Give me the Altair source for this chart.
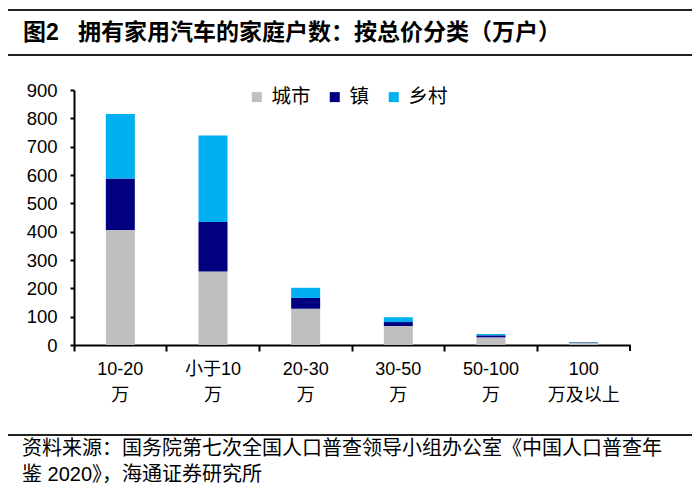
import altair as alt
import pandas as pd

# ---- data ----
categories = ["10-20万", "小于10万", "20-30万", "30-50万", "50-100万", "100万及以上"]
label_line1 = ["10-20", "小于10", "20-30", "30-50", "50-100", "100"]
label_line2 = ["万", "万", "万", "万", "万", "万及以上"]
series = ["城市", "镇", "乡村"]
urban = [406, 259, 128, 67, 27, 7]
town = [182, 175, 38, 14, 7, 2]
rural = [227, 305, 36, 17, 5, 1]
colors = ["#BFBFBF", "#000080", "#00B0F0"]
y_ticks = [0, 100, 200, 300, 400, 500, 600, 700, 800, 900]

title_text = "图2\u00a0\u00a0\u00a0拥有家用汽车的家庭户数：按总价分类（万户）"
footer_text = "资料来源：国务院第七次全国人口普查领导小组办公室《中国人口普查年\n鉴 2020》，海通证券研究所"

rows = []
for i, c in enumerate(categories):
    for j, (s, vals) in enumerate(zip(series, [urban, town, rural])):
        rows.append({"cat": c, "series": s, "value": vals[i], "idx": j})
df = pd.DataFrame(rows)
ldf = pd.DataFrame({"cat": categories, "l1": label_line1, "l2": label_line2})

FONT = "Liberation Sans, Noto Sans CJK SC"
W, H = 556, 255

xenc = alt.X("cat:N", sort=categories, title=None,
             scale=alt.Scale(paddingInner=0, paddingOuter=0),
             axis=alt.Axis(labels=False, bandPosition=0, tickSize=6, tickWidth=2,
                           domainWidth=2, domainColor="black", tickColor="black"))

bars = alt.Chart(df).mark_bar(size=29).encode(
    x=xenc,
    y=alt.Y("value:Q", title=None, stack="zero",
            scale=alt.Scale(domain=[0, 900], nice=False),
            axis=alt.Axis(values=y_ticks, grid=False, tickSize=4, tickWidth=2,
                          domainWidth=2, domainColor="black", tickColor="black",
                          labelFontSize=18.5, labelFont=FONT, labelColor="black",
                          labelPadding=13)),
    color=alt.Color("series:N",
                    scale=alt.Scale(domain=series, range=colors),
                    legend=alt.Legend(orient="none", legendX=173, legendY=-3,
                                      direction="horizontal", title=None,
                                      symbolType="square", symbolSize=100,
                                      labelFontSize=19.5,
                                      labelFont=FONT, labelColor="black",
                                      labelOffset=5, columnPadding=14)),
    order=alt.Order("idx:Q", sort="ascending"),
)

lab1 = alt.Chart(ldf).mark_text(fontSize=18, font=FONT, color="black", baseline="middle").encode(
    x=alt.X("cat:N", sort=categories), y=alt.value(H + 25), text="l1:N")
lab2 = alt.Chart(ldf).mark_text(fontSize=18, font=FONT, color="black", baseline="middle").encode(
    x=alt.X("cat:N", sort=categories), y=alt.value(H + 51), text="l2:N")

end_tick = alt.Chart(pd.DataFrame({"a": [0]})).mark_rule(color="black", strokeWidth=2).encode(
    x=alt.value(W), y=alt.value(H), y2=alt.value(H + 6))

one = pd.DataFrame({"t": [title_text]})
title = alt.Chart(one).mark_text(align="left", baseline="middle", fontSize=23,
                                 fontWeight="bold", font=FONT, color="black").encode(
    x=alt.value(-51), y=alt.value(-57), text="t:N")

foot = pd.DataFrame({"t": [footer_text]})
footer = alt.Chart(foot).mark_text(align="left", baseline="middle", fontSize=20,
                                   font=FONT, color="black", lineBreak="\n",
                                   lineHeight=26).encode(
    x=alt.value(-52), y=alt.value(359), text="t:N")

rdf = pd.DataFrame({"a": [0]})
def hrule(yv):
    return alt.Chart(rdf).mark_rule(color="#222222", strokeWidth=2).encode(
        x=alt.value(-69), x2=alt.value(619), y=alt.value(yv))

chart = alt.layer(bars, lab1, lab2, end_tick, title, footer,
                  hrule(-80), hrule(-35), hrule(345)).properties(
    width=W, height=H,
    padding={"left": 66, "top": 82, "right": 62, "bottom": 139},
    autosize=alt.AutoSizeParams(type="none"),
).configure_view(strokeOpacity=0)

chart.save("out.html", embed_options={"renderer": "svg", "actions": False})
